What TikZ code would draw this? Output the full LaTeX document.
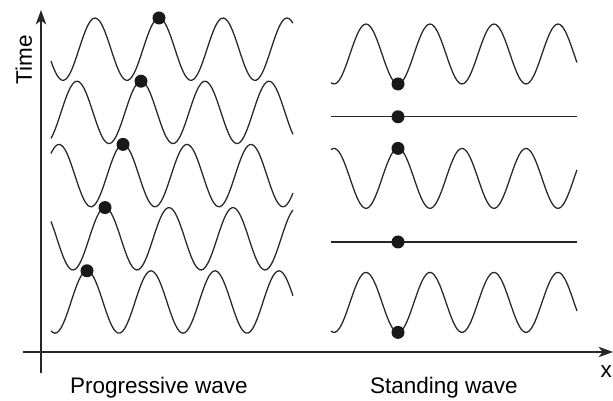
\documentclass[tikz,border=0pt]{standalone}
\usepackage{fontspec}
\setmainfont{Liberation Sans}
\usetikzlibrary{arrows.meta}

\begin{document}
\begin{tikzpicture}[
    wave/.style={line width=0.9pt, black!85},
    axis/.style={line width=1.4pt, black!85, -{Stealth[length=3.6mm,width=2.6mm,inset=1mm]}},
    dot/.style={circle, fill=black!90, inner sep=0pt, minimum size=3.25mm},
    lbl/.style={font=\fontsize{16}{19}\selectfont, inner sep=0pt, anchor=base}
  ]
  \useasboundingbox (-1.025,-1.225) rectangle (14.3,8.8);
  % axes: x to the right, time upwards
  \coordinate (xstart) at (-0.45,0);
  \coordinate (xend) at (14.3,0);
  \coordinate (tstart) at (0,-0.53);
  \coordinate (tend) at (0,8.55);
  \draw[axis] (xstart) -- (xend);
  \draw[axis] (tstart) -- (tend);
  \node[lbl, rotate=90] (timelbl) at (-0.225,7.3) {Time};
  \node[lbl, anchor=base east] (xlbl) at (14.28,-0.65) {x};
  % progressive wave: crest (dot) moves right as time goes on
  \foreach \i in {0,...,4} {
    \pgfmathsetmacro{\yc}{1.25+1.58*\i}
    \pgfmathsetmacro{\xp}{1.15+0.45*\i}
    \draw[wave] plot[domain=0.25:6.3, samples=120, smooth] (\x, {\yc+0.78*cos(225*(\x-\xp))});
    \node[dot] (pdot\i) at (\xp,\yc+0.78) {};
  }
  % standing wave: dot stays at the same x
  \foreach \yc/\s [count=\k] in {1.24/-1, 2.75/0, 4.34/1, 5.88/0, 7.45/-1} {
    \draw[wave] plot[domain=7.25:13.4, samples=120, smooth] (\x, {\yc+\s*0.75*cos(225*(\x-8.925))});
    \node[dot] (sdot\k) at (8.925,\yc+\s*0.75) {};
  }
  % captions
  \node[lbl] (proglbl) at (2.95,-1.05) {Progressive wave};
  \node[lbl] (standlbl) at (10.075,-1.05) {Standing wave};
\end{tikzpicture}
\end{document}
